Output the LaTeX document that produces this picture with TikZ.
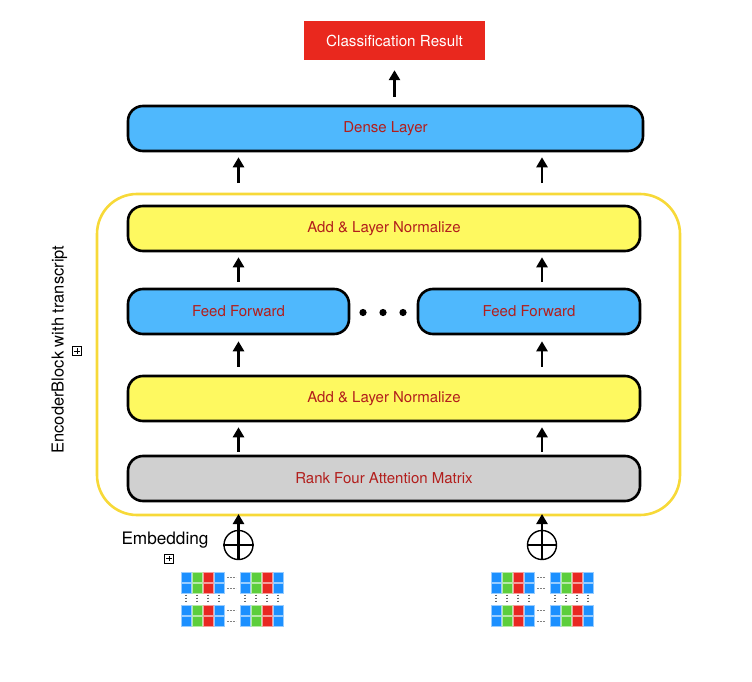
\documentclass[tikz,border=0pt]{standalone}
\usepackage{fontspec}
\setmainfont{TeX Gyre Heros}
\usetikzlibrary{arrows.meta}

\definecolor{boxblue}{RGB}{79,184,253}
\definecolor{boxyellow}{RGB}{254,249,96}
\definecolor{boxgray}{RGB}{208,208,208}
\definecolor{framegold}{RGB}{247,217,56}
\definecolor{resultred}{RGB}{233,40,30}
\definecolor{labelred}{RGB}{178,30,28}
\definecolor{cellblue}{RGB}{28,144,255}
\definecolor{cellgreen}{RGB}{92,206,60}
\definecolor{cellred}{RGB}{232,40,34}

\tikzset{
  layer/.style={draw, line width=2.6pt, rounded corners=15pt, minimum height=45pt,
    text=labelred, font=\fontsize{15}{17}\selectfont},
  uparrow/.style={line width=2.8pt, -{Triangle[width=11pt,length=10pt]}},
  toggle/.style={draw, line width=0.6pt, minimum size=9pt, inner sep=0pt,
    path picture={\draw[line width=0.7pt]
      ([xshift=1.8pt]path picture bounding box.west) -- ([xshift=-1.8pt]path picture bounding box.east)
      ([yshift=-1.8pt]path picture bounding box.north) -- ([yshift=1.8pt]path picture bounding box.south);}},
  oplus/.style={draw, circle, line width=1.4pt, minimum size=29pt, inner sep=0pt}
}

\begin{document}
\begin{tikzpicture}[x=1pt,y=1pt,yscale=-1,xscale=1]
\useasboundingbox (0,0) rectangle (752,682);

%Shape: Encoder frame
\draw [framegold, line width=2.6pt, rounded corners=40pt] (97,194) rectangle (680,515);
\coordinate (frameT) at (384,194);
\coordinate (frameB) at (384,515);
\coordinate (colL) at (238.5,0);
\coordinate (colR) at (542,0);

%Shape: Result box
\node [fill=resultred, minimum width=181pt, minimum height=39pt, text=white,
  font=\fontsize{15.2}{17}\selectfont] (result) at (394.5,40.5) {Classification Result};
%Shape: Layers
\node [layer, fill=boxblue, minimum width=515pt] (dense) at (385.5,128.5) {Dense Layer};
\node [layer, fill=boxyellow, minimum width=512pt] (addtop) at (384,228.5) {Add \& Layer Normalize};
\node [layer, fill=boxblue, minimum width=221pt] (ffleft) at (238.5,311.5) {Feed Forward};
\node [layer, fill=boxblue, minimum width=222pt] (ffright) at (529,311.5) {Feed Forward};
\node [layer, fill=boxyellow, minimum width=512pt] (addbot) at (384,398.5) {Add \& Layer Normalize};
\node [layer, fill=boxgray, minimum width=512pt] (rank) at (384,478.5) {Rank Four Attention Matrix};

%Dots between feed forward boxes
\foreach \dx in {363,383,403}
  \fill (\dx,312.5) circle (3.6pt);

%Shape: Sum symbols
\node [oplus] (sumL) at (238.5,545) {};
\node [oplus] (sumR) at (542,545) {};
\draw [line width=2.8pt] (sumL.west) -- (sumL.east);
\draw [line width=2.8pt] (sumR.west) -- (sumR.east);

%Straight Lines: arrows
\draw [uparrow, shorten <=8pt, shorten >=10pt] (dense.north -| result) -- (result.south);
\draw [uparrow, shorten <=11pt, shorten >=5pt] (frameT -| colL) -- (dense.south -| colL);
\draw [uparrow, shorten <=11pt, shorten >=5pt] (frameT -| colR) -- (dense.south -| colR);
\draw [uparrow, shorten <=6pt, shorten >=5pt] (ffleft.north -| colL) -- (addtop.south -| colL);
\draw [uparrow, shorten <=6pt, shorten >=5pt] (ffright.north -| colR) -- (addtop.south -| colR);
\draw [uparrow, shorten <=8pt, shorten >=6pt] (addbot.north -| colL) -- (ffleft.south -| colL);
\draw [uparrow, shorten <=8pt, shorten >=6pt] (addbot.north -| colR) -- (ffright.south -| colR);
\draw [uparrow, shorten <=3pt, shorten >=5pt] (rank.north -| colL) -- (addbot.south -| colL);
\draw [uparrow, shorten <=3pt, shorten >=5pt] (rank.north -| colR) -- (addbot.south -| colR);
\draw [uparrow, shorten >=-1pt] (sumL.south) -- (frameB -| sumL);
\draw [uparrow, shorten >=-1pt] (sumR.south) -- (frameB -| sumR);

% Text Node
\node [rotate=90, font=\fontsize{16.5}{18}\selectfont] (blocklabel) at (59.5,349.5) {EncoderBlock with transcript};
\node [toggle] (blocktoggle) at (77,351) {};
% Text Node
\node [font=\fontsize{17.2}{19}\selectfont] (embedlabel) at (165,540) {Embedding};
\node [toggle] (embedtoggle) at (169,558.5) {};

%Shape: Embedding grids
\foreach \gx in {181,491}{
  \foreach \px in {0,59}
    \foreach \c/\col in {0/cellblue,1/cellgreen,2/cellred,3/cellblue}
      \foreach \ry in {572,583,605,616}
        \filldraw [fill=\col, draw=\col!45!white, line width=0.6pt]
          (\gx+\px+\c*11,\ry) rectangle ++(10,10);
  \foreach \ry in {577,588,610,621}
    \draw [gray, line width=1pt, dash pattern=on 2pt off 1pt] (\gx+46,\ry) -- ++(9,0);
  \foreach \px in {0,59}
    \foreach \c in {0,...,3}
      \draw [gray!80!black, line width=1.3pt, dash pattern=on 1.3pt off 1.7pt]
        (\gx+\px+\c*11+5,594.5) -- ++(0,8);
}

\end{tikzpicture}
\end{document}
